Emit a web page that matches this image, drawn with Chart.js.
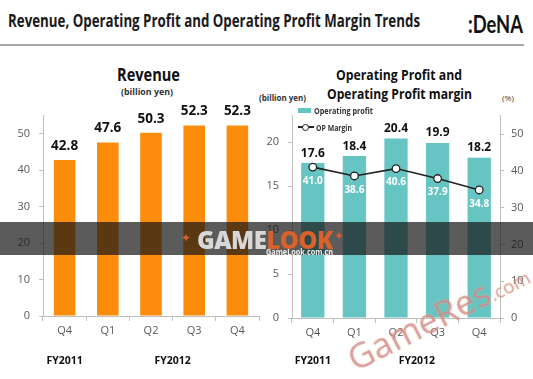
<!DOCTYPE html>
<html><head><meta charset="utf-8">
<script src="https://cdn.jsdelivr.net/npm/chart.js@4.4.1/dist/chart.umd.min.js"></script>
<style>
html,body{margin:0;padding:0;background:#fff;width:533px;height:379px;overflow:hidden;font-family:'Open Sans',sans-serif;}
#root{position:relative;width:533px;height:379px;}
.abs{position:absolute;white-space:nowrap;transform-origin:0 50%;}
canvas{position:absolute;}
</style></head><body>
<div id="root">
  <div class="abs" id="hdr" style="font-size:17px;font-weight:700;color:#1a1a1a;">Revenue, Operating Profit and Operating Profit Margin Trends</div>
  <div class="abs" id="logo" style="font-size:25px;font-family:'Lato',sans-serif;font-weight:700;color:#111;">:DeNA</div>
  <div class="abs" style="left:0;top:44px;width:524px;height:2px;background:#a8a8a8;"></div>

  <div class="abs" id="t1" style="font-size:17px;font-weight:700;color:#111;">Revenue</div>
  <div class="abs" id="u1" style="font-size:9.5px;font-weight:700;color:#333;">(billion yen)</div>
  <div class="abs" id="t2a" style="font-size:15px;font-weight:700;color:#111;">Operating Profit and</div>
  <div class="abs" id="t2b" style="font-size:15px;font-weight:700;color:#111;">Operating Profit margin</div>
  <div class="abs" id="u2" style="font-size:9px;font-weight:700;color:#333;">(billion yen)</div>
  <div class="abs" id="u3" style="font-size:8px;color:#444;">(%)</div>

  <canvas id="c1" width="270" height="279" style="left:0;top:100px;"></canvas>
  <canvas id="c2" width="268" height="279" style="left:265px;top:100px;"></canvas>

  <div class="abs" id="lgBox" style="left:298px;top:108px;width:13px;height:5px;"></div>
  <div class="abs" id="lg1" style="font-size:9px;font-weight:700;color:#333;"></div>
  <div class="abs" id="lgLine" style="left:298px;top:126px;width:16px;height:1.5px;background:#222;"></div>
  <div class="abs" style="left:302px;top:123.5px;width:5px;height:5px;border:1px solid #222;border-radius:50%;background:#fff;"></div>
  <div class="abs" id="lg2" style="font-size:9px;font-weight:700;color:#333;"></div>

  <div class="abs" style="left:0;top:222px;width:533px;height:33px;background:rgba(22,22,22,0.7);"></div>
  <div class="abs" style="left:181px;top:231px;font-size:12px;color:#d2602a;font-family:'DejaVu Sans';">✦</div>
  <div class="abs" id="gl" style="font-size:25px;font-weight:800;letter-spacing:-0.5px;"><span style="color:#d8d8d8">GAME</span><span style="color:#d9622b">LOOK</span></div>
  <div class="abs" style="left:334px;top:229px;font-size:12px;color:#d2602a;font-family:'DejaVu Sans';">✦</div>
  <div class="abs" id="glurl" style="font-size:8px;font-weight:700;color:#eee;">GameLook.com.cn</div>

  <div class="abs" id="wm" style="left:360px;top:334px;transform-origin:0 100%;transform:rotate(-27deg);color:rgba(200,105,150,0.6);text-shadow:0 0 1.5px rgba(240,220,120,0.7);"><span style="font-size:35px;">GameRes</span><span style="font-size:19px;">.com</span></div>
</div>
<script>
// ---------- data ----------
const categories = ['Q4', 'Q1', 'Q2', 'Q3', 'Q4'];
const fyLabels = ['FY2011', 'FY2012'];
const fyGroups = [[0, 0], [1, 4]];
const revenue = [42.8, 47.6, 50.3, 52.3, 52.3];
const opProfit = [17.6, 18.4, 20.4, 19.9, 18.2];
const opMargin = [41.0, 38.6, 40.6, 37.9, 34.8];

const ORANGE = '#FB8C0C';
const TEAL = '#66C4C3';
const AX = '#bfbfbf';
const TICKC = '#595959';
Chart.defaults.font.family = "'Open Sans', sans-serif";

// ---------- helpers for HTML text ----------
function place(id, cx, cy, w, leftAligned) {
  const el = document.getElementById(id);
  const r = el.getBoundingClientRect();
  const s = w / r.width;
  el.style.transform = 'scaleX(' + s + ')';
  el.style.left = (leftAligned ? cx : cx - w / 2) + 'px';
  el.style.top = (cy - r.height / 2) + 'px';
}

// ---------- plugins ----------
const valueLabels = {
  id: 'valueLabels',
  afterDatasetsDraw(chart) {
    const ctx = chart.ctx;
    chart.data.datasets.forEach((ds, i) => {
      const cfg = ds.valueLabel; if (!cfg) return;
      const meta = chart.getDatasetMeta(i);
      meta.data.forEach((el, j) => {
        ctx.save();
        ctx.font = cfg.font; ctx.fillStyle = cfg.color;
        ctx.textAlign = 'center'; ctx.textBaseline = 'middle';
        ctx.fillText(ds.data[j].toFixed(1), el.x, el.y + cfg.dy);
        ctx.restore();
      });
    });
  }
};
const fyPlugin = {
  id: 'fy',
  afterDraw(chart) {
    const x = chart.scales.x, ctx = chart.ctx;
    ctx.save();
    ctx.font = "bold 10.5px 'Open Sans'"; ctx.fillStyle = '#111';
    ctx.textAlign = 'center'; ctx.textBaseline = 'middle';
    fyGroups.forEach((g, k) => {
      const cx = (x.getPixelForValue(g[0]) + x.getPixelForValue(g[1])) / 2;
      ctx.fillText(fyLabels[k], cx, 261);
    });
    ctx.restore();
  }
};

function xAxis(h) {
  return {
    afterFit(s) { s.height = h; },
    grid: { offset: true, drawOnChartArea: false, drawTicks: true, tickLength: 5, color: AX },
    border: { color: AX },
    ticks: { color: TICKC, font: { size: 11 }, padding: 3 }
  };
}
function yAxis(pos, w, max, step, pad) {
  return {
    position: pos, min: 0, max: max,
    afterFit(s) { s.width = w; },
    ticks: { stepSize: step, includeBounds: false, color: TICKC, font: { size: 11 }, padding: pad },
    grid: { drawOnChartArea: false, tickLength: 4, color: AX },
    border: { color: AX }
  };
}

// ---------- chart 1: revenue ----------
new Chart(document.getElementById('c1'), {
  type: 'bar',
  data: {
    labels: categories,
    datasets: [{
      label: 'Revenue', data: revenue, backgroundColor: ORANGE,
      categoryPercentage: 1, barPercentage: 0.5,
      valueLabel: { font: "bold 13.5px 'Open Sans'", color: '#111', dy: -14 }
    }]
  },
  options: {
    responsive: false, animation: false,
    layout: { padding: { top: 11, right: 11, left: 0, bottom: 0 } },
    plugins: { legend: { display: false }, tooltip: { enabled: false } },
    scales: { x: xAxis(63), y: yAxis('left', 43, 55, 10, 9) }
  },
  plugins: [valueLabels, fyPlugin]
});

// ---------- chart 2: operating profit + margin ----------
const chart2 = new Chart(document.getElementById('c2'), {
  type: 'bar',
  data: {
    labels: categories,
    datasets: [{
      type: 'line', label: 'OP Margin', data: opMargin, yAxisID: 'y2', order: 0,
      borderColor: '#222', borderWidth: 1.6, pointRadius: 3.8, pointBorderWidth: 1.3,
      pointBackgroundColor: '#fff', pointBorderColor: '#222', tension: 0,
      valueLabel: { font: "bold 10px 'Open Sans'", color: '#fff', dy: 14 }
    }, {
      type: 'bar', label: 'Operating profit', data: opProfit, yAxisID: 'y', order: 1,
      backgroundColor: TEAL, categoryPercentage: 1, barPercentage: 0.56,
      valueLabel: { font: "bold 12px 'Open Sans'", color: '#111', dy: -10 }
    }]
  },
  options: {
    responsive: false, animation: false,
    layout: { padding: { top: 11, right: 0, left: 0, bottom: 0 } },
    plugins: { legend: { display: false }, tooltip: { enabled: false } },
    scales: { x: xAxis(61), y: yAxis('left', 27, 23, 5, 9), y2: yAxis('right', 33, 55, 10, 7) }
  },
  plugins: [valueLabels, fyPlugin]
});

// legend text/colours from the datasets
document.getElementById('lgBox').style.background = chart2.data.datasets[1].backgroundColor;
document.getElementById('lg1').textContent = chart2.data.datasets[1].label;
document.getElementById('lg2').textContent = chart2.data.datasets[0].label;

// ---------- place HTML texts ----------
place('hdr', 8, 20, 412, true);
place('logo', 495, 23, 55);
place('t1', 148.5, 74, 63);
place('u1', 147, 91, 52);
place('t2a', 399, 74, 126);
place('t2b', 399.5, 93, 145);
place('u2', 282.5, 97, 47);
place('u3', 508, 97, 12);
place('lg1', 314, 110, 59, true);
place('lg2', 316, 127, 36, true);
place('gl', 197, 239, 136, true);
place('glurl', 266, 251, 67, true);
</script>
</body></html>
